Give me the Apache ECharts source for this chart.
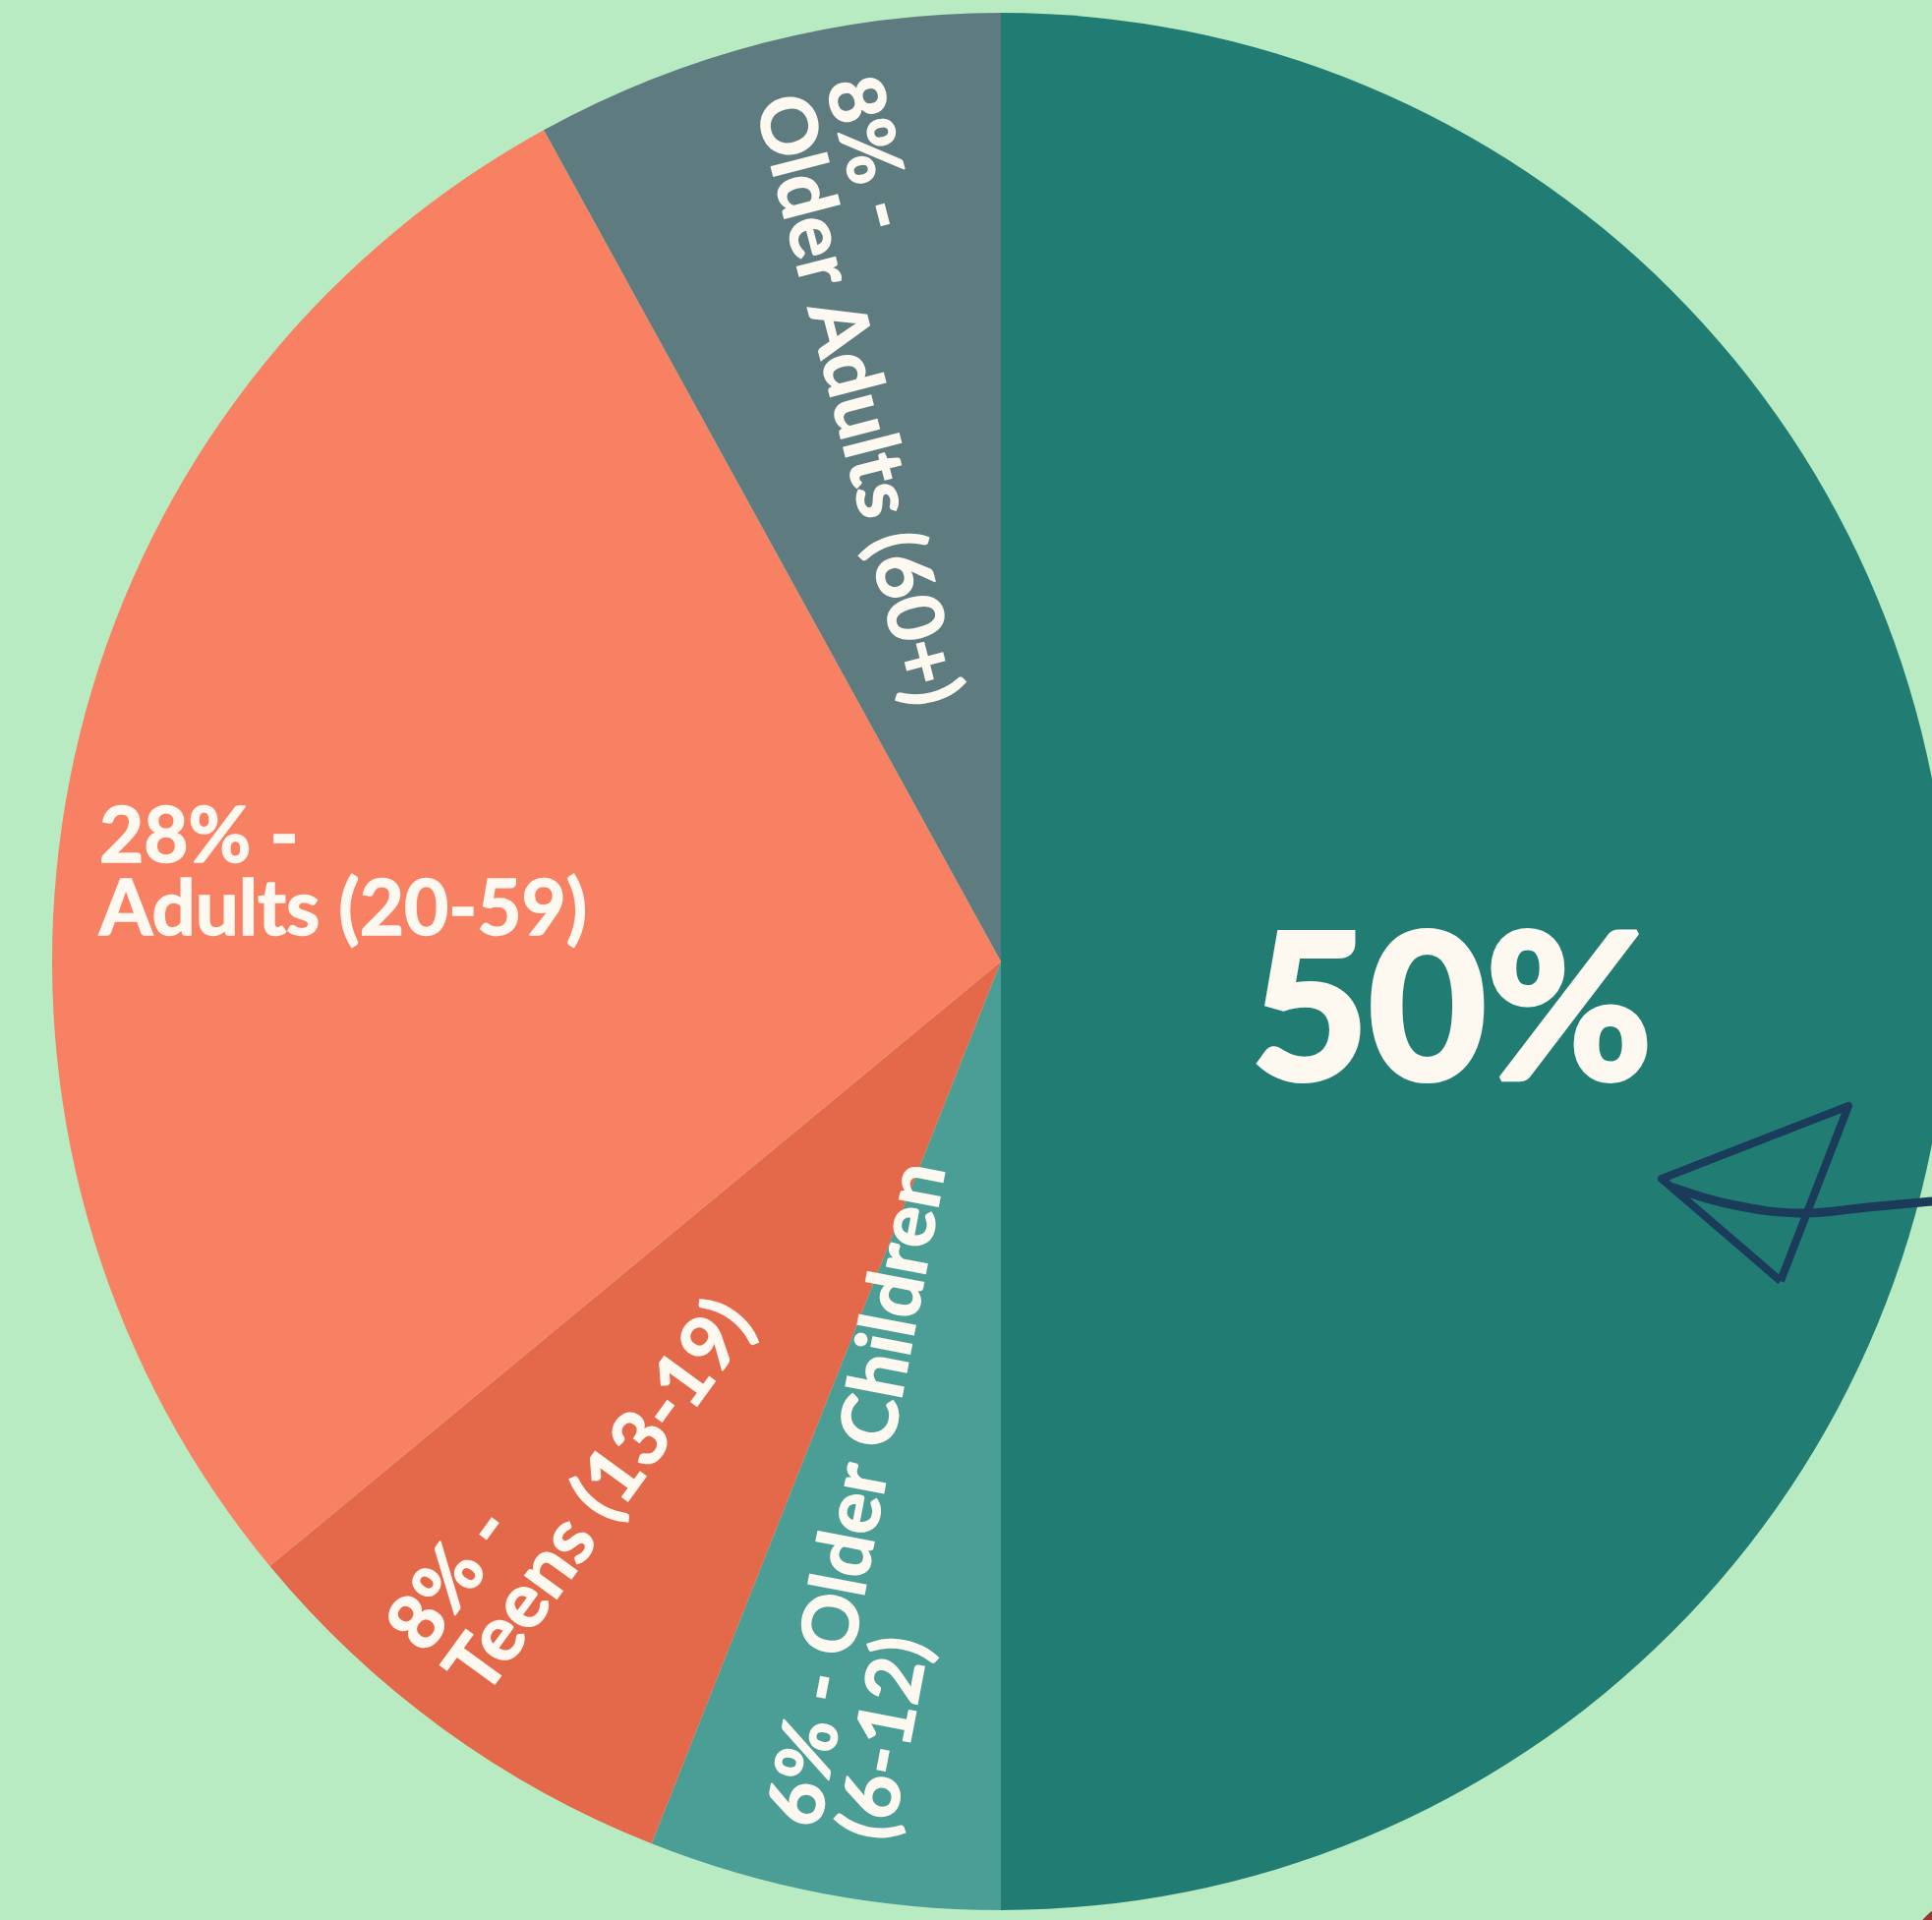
<!DOCTYPE html>
<html>
<head>
<meta charset="utf-8">
<script src="https://cdn.jsdelivr.net/npm/echarts@6/dist/echarts.min.js"></script>
<style>
html,body{margin:0;padding:0;background:#b8ebc1;}
#chart{width:1965px;height:1953px;}
</style>
</head>
<body>
<div id="chart"></div>
<script>
const categories = ['', 'Older Children', 'Teens', 'Adults', 'Older Adults'];
const ageRanges = ['', '(6-12)', '(13-19)', '(20-59)', '(60+)'];
const values = [50, 6, 8, 28, 8];
const colors = ['#217d73', '#4a9e96', '#e4694a', '#f98163', '#5e7c80'];

// desired on-screen label shift from the default inside position
const labelShift = [[-27, 53], [-18, 72], [-152, 130], [-192, 2], [10, -110]];
const labelRadial = [false, true, true, false, true];

const total = values.reduce((a, b) => a + b, 0);
let acc = 0;
const labelRotRad = values.map((v, i) => {
  const mid = -Math.PI / 2 + 2 * Math.PI * (acc + v / 2) / total;
  acc += v;
  if (!labelRadial[i]) return 0;
  return Math.cos(mid) < 0 ? -mid + Math.PI : -mid;
});
// convert screen shift into the label's rotated frame
const localShift = labelShift.map((s, i) => {
  const r = labelRotRad[i];
  const c = Math.cos(r), sn = Math.sin(r);
  return [s[0] * c - s[1] * sn, s[0] * sn + s[1] * c];
});

const chart = echarts.init(document.getElementById('chart'), null, {renderer: 'canvas'});

const data = values.map((v, i) => ({
  value: v,
  name: categories[i],
  itemStyle: {color: colors[i]},
  label: {rotate: labelRadial[i] ? 'radial' : 0}
}));

const txt = '#fdf8f0';

chart.setOption({
  backgroundColor: '#b8ebc1',
  animation: false,
  graphic: [
    {
      type: 'polyline', z: 100,
      shape: {points: [[1811, 1303], [1690, 1199], [1880, 1125], [1811, 1303]]},
      style: {stroke: '#1b3b5a', lineWidth: 8, fill: null, lineJoin: 'round'}
    },
    {
      type: 'polyline', z: 100,
      shape: {points: [[1702, 1208], [1760, 1225], [1830, 1234], [1900, 1228], [1965, 1222]], smooth: 0.4},
      style: {stroke: '#1b3b5a', lineWidth: 9, fill: null, lineCap: 'round'}
    },
    {
      type: 'circle', z: 100,
      shape: {cx: 2000, cy: 1990, r: 58},
      style: {fill: '#9a3630'}
    }
  ],
  series: [{
    type: 'pie',
    center: [1018, 978],
    radius: [0, 965],
    startAngle: 90,
    clockwise: true,
    avoidLabelOverlap: false,
    silent: true,
    itemStyle: {borderWidth: 0},
    label: {
      show: true,
      position: 'inside',
      color: txt,
      fontFamily: 'Lato',
      fontWeight: 'bold',
      fontSize: 78,
      lineHeight: 74,
      formatter: function (p) {
        const i = p.dataIndex;
        if (i === 0) return '{big|' + values[i] + '%}';
        if (i === 1) return '{t|' + values[i] + '% - ' + categories[i] + '}\n{t|' + ageRanges[i] + '}';
        return '{t|' + values[i] + '% -}\n{t|' + categories[i] + ' ' + ageRanges[i] + '}';
      },
      rich: {
        big: {fontSize: 206, fontWeight: 'bold', fontFamily: 'Lato', color: txt, lineHeight: 210,
              textBorderColor: txt, textBorderWidth: 6},
        t: {fontSize: 78, fontWeight: 'bold', fontFamily: 'Lato', color: txt, lineHeight: 74, align: 'left',
            textBorderColor: txt, textBorderWidth: 1.5}
      }
    },
    labelLine: {show: false},
    labelLayout: function (params) {
      const s = localShift[params.dataIndex];
      return {dx: s[0], dy: s[1]};
    },
    data: data
  }]
});
</script>
</body>
</html>
